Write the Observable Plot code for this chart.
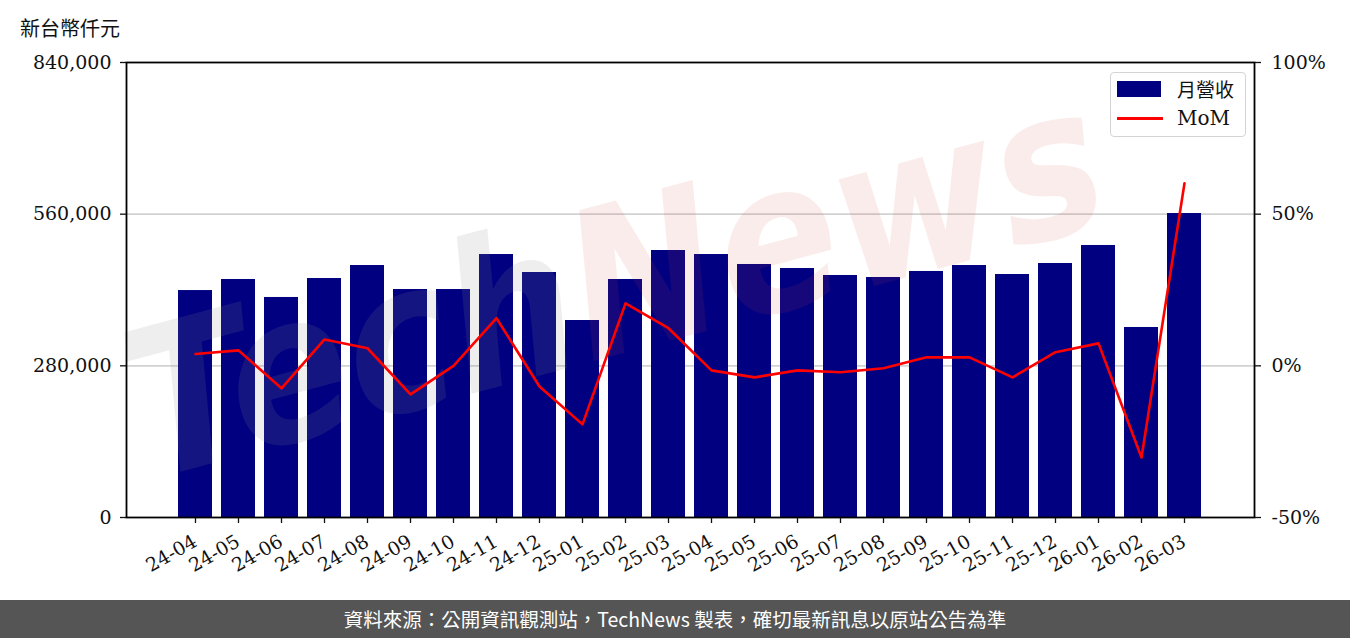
<!DOCTYPE html>
<html>
<head>
<meta charset="utf-8">
<script src="https://cdn.jsdelivr.net/npm/d3@7"></script>
<script src="https://cdn.jsdelivr.net/npm/@observablehq/plot@0.6"></script>
<style>
  html, body { margin: 0; padding: 0; background: #fff; }
  #wrap { position: relative; width: 1350px; height: 638px; overflow: hidden; background: #fff; }
  #wrap > svg { position: absolute; left: 0; top: 0; }
  #unit { position: absolute; left: 20px; top: 13px; font: 20px "Noto Sans CJK TC", sans-serif; color: #111; }
  #legend { position: absolute; left: 1110px; top: 72px; width: 134px; height: 63px; border: 1.5px solid #d4d4d4; border-radius: 4px; background: rgba(255,255,255,0.85); font: 20px "DejaVu Serif", "Noto Sans CJK TC", serif; color: #111; }
  #legend .sw { position: absolute; }
  #legend .lab { position: absolute; left: 66px; white-space: nowrap; line-height: 26px; }
  #footer { position: absolute; left: 0; top: 600px; width: 1350px; height: 38px; background: #555555; color: #fff; text-align: center; font: 19.5px "Noto Sans CJK TC", "Noto Sans", sans-serif; line-height: 38px; }
</style>
</head>
<body>
<div id="wrap"></div>
<script>
const months = ["24-04","24-05","24-06","24-07","24-08","24-09","24-10","24-11","24-12","25-01","25-02","25-03","25-04","25-05","25-06","25-07","25-08","25-09","25-10","25-11","25-12","26-01","26-02","26-03"];
const revenue = [419000,439400,406200,441200,465200,420900,420900,485500,452300,363700,439400,492900,485500,467100,459700,446800,443100,454200,465200,448600,468900,502200,350800,561200];
const mom = [3.9,5.1,-7.4,8.7,5.8,-9.4,0.0,15.7,-6.8,-19.3,20.6,12.4,-1.5,-3.8,-1.5,-2.1,-0.8,2.8,2.8,-3.8,4.5,7.4,-30.2,60.2];
const leftTicks = [0, 280000, 560000, 840000];
const rightTicks = [-50, 0, 50, 100];
const unitLabel = "新台幣仟元";
const seriesNames = ["月營收", "MoM"];
const sourceText = "資料來源：公開資訊觀測站，TechNews 製表，確切最新訊息以原站公告為準";
const watermark = ["Tech", "News"];

const data = months.map((m, i) => ({month: m, revenue: revenue[i], mom: mom[i]}));

const W = 1350, H = 600;
const margins = {marginTop: 62, marginBottom: 83, marginLeft: 126, marginRight: 96};
const xScale = {type: "band", domain: months, paddingInner: 0.2, paddingOuter: 1.19, label: null};
const font = {fontFamily: "'DejaVu Serif', serif", fontSize: "19px", color: "#111", background: "transparent", overflow: "visible"};

const wrap = document.getElementById("wrap");

const p1 = Plot.plot({
  width: W, height: H, ...margins,
  style: font,
  x: xScale,
  y: {domain: [0, 840000], label: null},
  marks: [
    Plot.gridY(leftTicks.slice(1, 3), {stroke: "#d2d2d2", strokeOpacity: 1, strokeWidth: 1.6}),
    Plot.barY(data, {x: "month", y: "revenue", fill: "#000080"}),
    Plot.axisX({tickSize: 6, tickFormat: () => "", label: null, stroke: "#111", strokeWidth: 1.3}),
    Plot.text(months, {x: d => d, frameAnchor: "bottom", rotate: -30, textAnchor: "end", lineAnchor: "top", dx: -4, dy: 16, fill: "#111"}),
    Plot.axisY({ticks: leftTicks, tickSize: 6, tickPadding: 9, label: null, tickFormat: d3.format(","), stroke: "#111", strokeWidth: 1.3}),
  ]
});
wrap.appendChild(p1);

// watermark
const ns = "http://www.w3.org/2000/svg";
const wm = document.createElementNS(ns, "svg");
wm.setAttribute("width", W); wm.setAttribute("height", H);
wm.style.pointerEvents = "none";
const t = document.createElementNS(ns, "text");
t.setAttribute("x", 150); t.setAttribute("y", 480);
t.setAttribute("transform", "rotate(-15 150 480)");
t.setAttribute("font-family", "DejaVu Sans, sans-serif");
t.setAttribute("font-style", "italic");
t.setAttribute("font-weight", "bold");
t.setAttribute("font-size", "205");
t.setAttribute("textLength", "1000");
t.setAttribute("lengthAdjust", "spacingAndGlyphs");
const s1 = document.createElementNS(ns, "tspan");
s1.setAttribute("fill", "rgb(140,140,140)"); s1.setAttribute("fill-opacity", "0.15"); s1.textContent = watermark[0];
const s2 = document.createElementNS(ns, "tspan");
s2.setAttribute("fill", "rgb(220,70,70)"); s2.setAttribute("fill-opacity", "0.10"); s2.textContent = watermark[1];
t.appendChild(s1); t.appendChild(s2);
wm.appendChild(t);
wrap.appendChild(wm);

const p2 = Plot.plot({
  width: W, height: H, ...margins,
  style: font,
  x: {...xScale, axis: null},
  y: {domain: [-50, 100], label: null},
  marks: [
    Plot.lineY(data, {x: "month", y: "mom", stroke: "#ff0000", strokeWidth: 2.6}),
    Plot.axisY({anchor: "right", ticks: rightTicks, tickSize: 6, tickPadding: 11, label: null, tickFormat: d => d + "%", stroke: "#111", strokeWidth: 1.3}),
    Plot.frame({stroke: "#000", strokeWidth: 1.8})
  ]
});
wrap.appendChild(p2);

const unit = document.createElement("div");
unit.id = "unit";
unit.textContent = unitLabel;
wrap.appendChild(unit);

const legend = document.createElement("div");
legend.id = "legend";
legend.innerHTML =
  '<div class="sw" style="left:6px;top:8px;width:44px;height:16px;background:#000080"></div>' +
  '<div class="lab" style="top:3px;font-family:\'Noto Sans CJK TC\',sans-serif;font-size:19px">' + seriesNames[0] + '</div>' +
  '<div class="sw" style="left:6px;top:44px;width:46px;height:3px;background:#ff0000"></div>' +
  '<div class="lab" style="top:32px">' + seriesNames[1] + '</div>';
wrap.appendChild(legend);

const footer = document.createElement("div");
footer.id = "footer";
footer.textContent = sourceText;
wrap.appendChild(footer);
</script>
</body>
</html>
